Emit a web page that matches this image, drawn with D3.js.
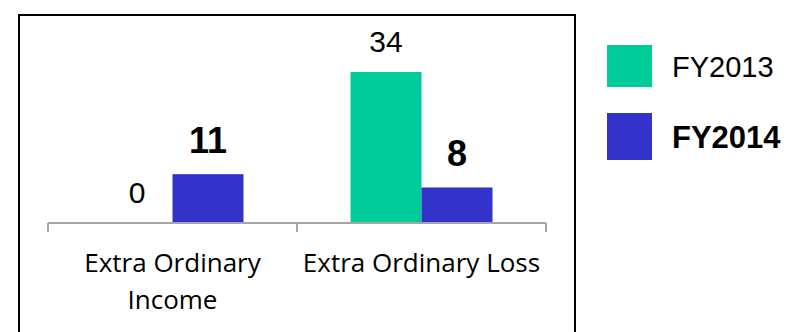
<!DOCTYPE html>
<html>
<head>
<meta charset="utf-8">
<script src="https://cdn.jsdelivr.net/npm/d3@7"></script>
<style>
  html, body { margin: 0; padding: 0; background: #fff; }
  svg { display: block; }
</style>
</head>
<body>
<svg id="chart" width="787" height="332"></svg>
<script>
// Extraordinary items, by fiscal year
const categories = ["Extra Ordinary Income", "Extra Ordinary Loss"];
const categoryLines = [["Extra Ordinary", "Income"], ["Extra Ordinary Loss"]];
const seriesNames = ["FY2013", "FY2014"];
const fy2013 = [0, 34];
const fy2014 = [11, 8];
const seriesValues = [fy2013, fy2014];
const seriesColors = ["#00CC99", "#3333CC"];

const svg = d3.select("#chart");

// frame around the plot
svg.append("rect")
  .attr("x", 19).attr("y", 15)
  .attr("width", 556).attr("height", 340)
  .attr("fill", "none").attr("stroke", "#000").attr("stroke-width", 2);

const x0 = d3.scaleBand().domain(categories).range([48, 546]).padding(0);
const groupW = 142;
const x1 = d3.scaleBand().domain(seriesNames)
  .range([(x0.bandwidth() - groupW) / 2, (x0.bandwidth() + groupW) / 2]).padding(0);
const y = d3.scaleLinear().domain([0, 34]).range([223, 72]);

// bars
const rows = categories.map((c, i) => ({
  cat: c,
  vals: seriesNames.map((s, j) => ({ s, j, v: seriesValues[j][i] }))
}));

const g = svg.append("g").selectAll("g").data(rows).join("g")
  .attr("transform", d => `translate(${x0(d.cat)},0)`);

g.selectAll("rect").data(d => d.vals).join("rect")
  .attr("x", d => x1(d.s))
  .attr("y", d => y(d.v))
  .attr("width", x1.bandwidth())
  .attr("height", d => y(0) - y(d.v))
  .attr("fill", d => seriesColors[d.j]);

g.selectAll("text.val").data(d => d.vals).join("text")
  .attr("class", "val")
  .attr("x", d => x1(d.s) + x1.bandwidth() / 2)
  .attr("y", d => y(d.v) - (d.j === 0 ? 20 : 21))
  .attr("text-anchor", "middle")
  .attr("font-family", "'Liberation Sans', Arial, sans-serif")
  .attr("font-size", d => d.j === 0 ? 30 : 36)
  .attr("font-weight", d => d.j === 0 ? "normal" : "bold")
  .attr("fill", "#000")
  .text(d => d.v);

// category axis
const axis = svg.append("g").attr("transform", `translate(0,${y(0)})`)
  .call(d3.axisBottom(x0).tickSize(0).tickFormat(""));
axis.select(".domain").attr("stroke", "#A6A6A6").attr("stroke-width", 2)
  .attr("d", `M48,0H546`);
axis.selectAll(".tick").remove();
const edges = [x0.range()[0], ...categories.slice(1).map(c => x0(c)), x0.range()[1]];
axis.selectAll("line.edge").data(edges).join("line")
  .attr("class", "edge")
  .attr("x1", d => d).attr("x2", d => d)
  .attr("y1", 0).attr("y2", 9)
  .attr("stroke", "#A6A6A6").attr("stroke-width", 2);

categories.forEach((c, i) => {
  const t = svg.append("text")
    .attr("x", x0(c) + x0.bandwidth() / 2)
    .attr("y", 272)
    .attr("text-anchor", "middle")
    .attr("font-family", "'Open Sans', sans-serif")
    .attr("font-size", 26)
    .attr("fill", "#000");
  categoryLines[i].forEach((line, k) => {
    t.append("tspan")
      .attr("x", x0(c) + x0.bandwidth() / 2)
      .attr("dy", k === 0 ? 0 : 37)
      .text(line);
  });
});

// legend
const legend = svg.append("g").selectAll("g").data(seriesNames).join("g")
  .attr("transform", (d, i) => `translate(607,${i === 0 ? 45 : 113})`);
legend.append("rect")
  .attr("width", 45).attr("height", (d, i) => i === 0 ? 42 : 47)
  .attr("fill", (d, i) => seriesColors[i]);
legend.append("text")
  .attr("x", 65)
  .attr("y", (d, i) => i === 0 ? 32 : 35)
  .attr("font-family", "'Liberation Sans', Arial, sans-serif")
  .attr("font-size", (d, i) => i === 0 ? 29 : 31)
  .attr("font-weight", (d, i) => i === 0 ? "normal" : "bold")
  .attr("fill", "#000")
  .text(d => d);
</script>
</body>
</html>
